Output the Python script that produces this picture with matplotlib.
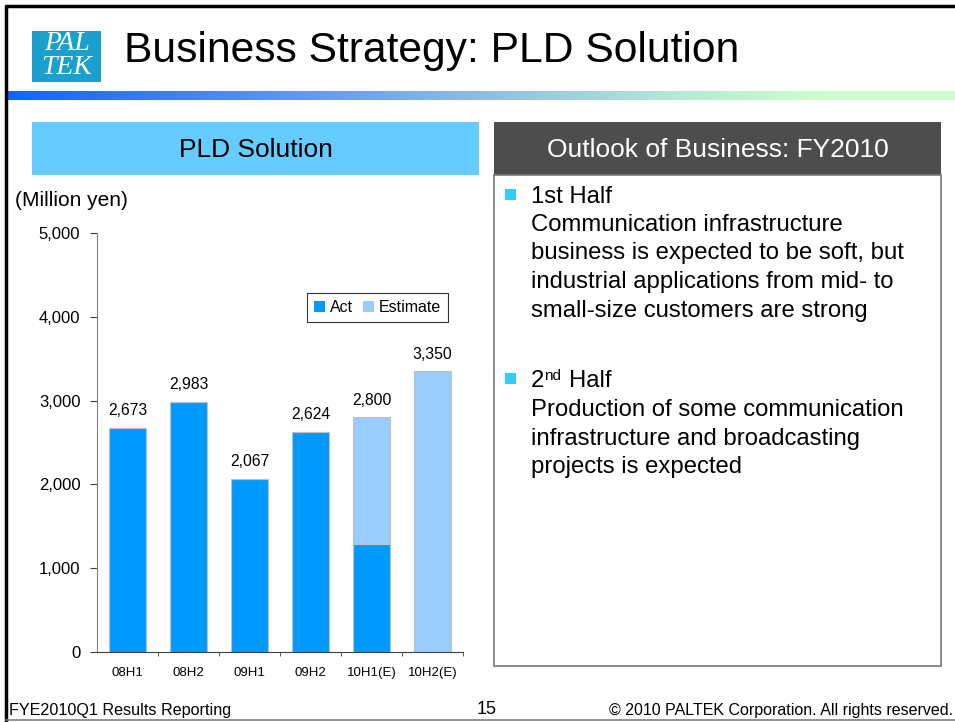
import matplotlib
matplotlib.use("Agg")
import matplotlib.pyplot as plt
import numpy as np
from matplotlib.patches import Rectangle
from matplotlib.colors import LinearSegmentedColormap

plt.rcParams['font.family'] = ['Liberation Sans', 'DejaVu Sans']

# ---- data ----
categories = ["08H1", "08H2", "09H1", "09H2", "10H1(E)", "10H2(E)"]
totals = [2673, 2983, 2067, 2624, 2800, 3350]
actual = [2673, 2983, 2067, 2624, 1290, 0]
estimate = [t - a for t, a in zip(totals, actual)]
y_ticks = [0, 1000, 2000, 3000, 4000, 5000]
y_ticklabels = ["0", "1,000", "2,000", "3,000", "4,000", "5,000"]
series_names = ["Act", "Estimate"]

C_ACT = "#0099ff"
C_EST = "#99ccff"

W, H = 955, 722
fig = plt.figure(figsize=(W / 100, H / 100), dpi=100)
bg = fig.add_axes([0, 0, 1, 1])
bg.set_xlim(0, W)
bg.set_ylim(H, 0)
bg.axis("off")

# frame lines
bg.plot([6, 6], [5, 722], color="black", lw=2.5, solid_capstyle="butt")
bg.plot([5, 955], [5.5, 5.5], color="black", lw=2.5, solid_capstyle="butt")
bg.plot([6, 955], [720, 720], color="#808080", lw=1.2)

# logo
bg.add_patch(Rectangle((32, 31), 69, 51, facecolor="#1aa0cc", edgecolor="none"))
bg.text(67, 44, "PAL", color="white", fontsize=20, fontstyle="italic",
        family=["Liberation Serif"], ha="center", va="center")
bg.text(67, 68, "TEK", color="white", fontsize=20, fontstyle="italic",
        family=["Liberation Serif"], ha="center", va="center")

# title
bg.text(124, 51, "Business Strategy: PLD Solution", fontsize=30.7,
        ha="left", va="center", color="black")

# gradient bar
cmap = LinearSegmentedColormap.from_list("g", [
    (0.0, "#0f64ff"), (0.15, "#3a7bff"), (0.38, "#70a6f0"),
    (0.55, "#98c8e0"), (0.72, "#b6ecd4"), (0.86, "#ccffcc"), (1.0, "#ccffcc")])
grad = np.linspace(0, 1, 512).reshape(1, -1)
bg.imshow(grad, extent=[7, 955, 100, 91], aspect="auto", cmap=cmap, zorder=1)
bg.set_xlim(0, W)
bg.set_ylim(H, 0)

# header boxes
bg.add_patch(Rectangle((32, 122), 447, 53, facecolor="#66ccff", edgecolor="none"))
bg.text(255.5, 150, "PLD Solution", fontsize=19, ha="center", va="center")
bg.add_patch(Rectangle((494, 122), 447, 53, facecolor="#4d4d4d", edgecolor="none"))
bg.text(717.5, 150, "Outlook of Business: FY2010", fontsize=19, ha="center",
        va="center", color="white")
bg.add_patch(Rectangle((494, 175), 447, 491, facecolor="white",
                       edgecolor="#777777", lw=1.2))

# right panel text
fs_r = 17.2
bg.add_patch(Rectangle((505, 189), 11, 11, facecolor="#33ccff", edgecolor="none"))
bg.text(531, 197, "1st Half", fontsize=fs_r, ha="left", va="center")
lines1 = ["Communication infrastructure",
          "business is expected to be soft, but",
          "industrial applications from mid- to",
          "small-size customers are strong"]
for i, s in enumerate(lines1):
    bg.text(531, 225 + i * 28.5, s, fontsize=fs_r, ha="left", va="center")

bg.add_patch(Rectangle((505, 373), 11, 11, facecolor="#33ccff", edgecolor="none"))
bg.text(531, 381, "2", fontsize=fs_r, ha="left", va="center")
bg.text(544, 376, "nd", fontsize=11, ha="left", va="center")
bg.text(569, 381, "Half", fontsize=fs_r, ha="left", va="center")
lines2 = ["Production of some communication",
          "infrastructure and broadcasting",
          "projects is expected"]
for i, s in enumerate(lines2):
    bg.text(531, 410 + i * 28.5, s, fontsize=fs_r, ha="left", va="center")

# unit label
bg.text(15, 201, "(Million yen)", fontsize=15, ha="left", va="center")

# footer
bg.text(9, 710, "FYE2010Q1 Results Reporting", fontsize=11.6, ha="left", va="center")
bg.text(487, 710, "15", fontsize=13, ha="center", va="center")
bg.text(953, 710, "\u00a9 2010 PALTEK Corporation. All rights reserved.",
        fontsize=11.5, ha="right", va="center")

# ---- chart ----
left, right, top, bottom = 97, 463, 233, 652
ax = fig.add_axes([left / W, (H - bottom) / H, (right - left) / W, (bottom - top) / H])
ax.patch.set_alpha(0)
x = np.arange(len(categories))
bw = 0.62
ax.bar(x, actual, bw, color=C_ACT, edgecolor="#c0c0c0", lw=0.8, label=series_names[0])
ax.bar(x, estimate, bw, bottom=actual, color=C_EST, edgecolor="#c0c0c0", lw=0.8,
       label=series_names[1])
for xi, t in zip(x, totals):
    ax.annotate(f"{t:,}", (xi, t), xytext=(0, 7), textcoords="offset points",
                ha="center", va="bottom", fontsize=11.3)

ax.set_xlim(-0.5, len(categories) - 0.5)
ax.set_ylim(0, 5000)
ax.set_yticks(y_ticks)
ax.set_yticklabels(y_ticklabels, fontsize=12)
ax.set_xticks(x)
ax.set_xticklabels(categories, fontsize=9.5)
ax.tick_params(axis="x", length=0, pad=11)
ax.set_xticks(np.arange(len(categories)) + 0.5, minor=True)
ax.tick_params(axis="x", which="minor", length=3, direction="out", color="#404040")
ax.tick_params(axis="y", length=5, direction="out", color="#404040", pad=7)
for s in ["top", "right"]:
    ax.spines[s].set_visible(False)
ax.spines["left"].set_color("#808080")
ax.spines["bottom"].set_color("#404040")

handles = [Rectangle((0, 0), 1, 1, facecolor=C_ACT), Rectangle((0, 0), 1, 1, facecolor=C_EST)]
leg = ax.legend(handles, series_names, loc="upper left",
                bbox_to_anchor=((307 - left) / (right - left), (bottom - 293) / (bottom - top)),
                fontsize=11.5, frameon=True, fancybox=False, handlelength=0.7,
                handleheight=0.7, handletextpad=0.3, columnspacing=0.6, ncol=2,
                borderpad=0.45, borderaxespad=0)
leg.get_frame().set_edgecolor("black")
leg.get_frame().set_linewidth(0.8)

fig.savefig("out.png", dpi=100)
